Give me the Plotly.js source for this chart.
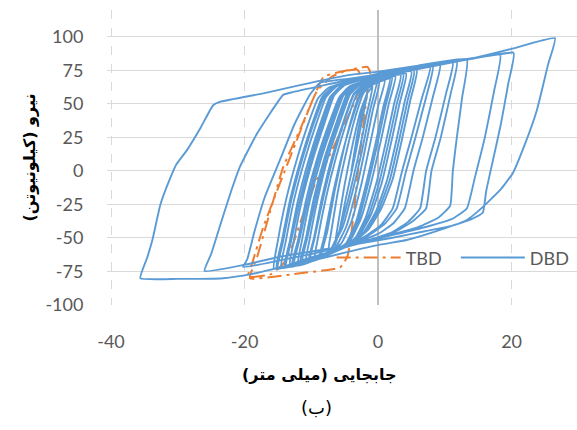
<!DOCTYPE html>
<html>
<head>
<meta charset="utf-8">
<script src="https://cdn.plot.ly/plotly-3.0.1.min.js"></script>
<style>
html,body{margin:0;padding:0;background:#fff;}
#chart{width:577px;height:430px;}
</style>
</head>
<body>
<div id="chart"></div>
<script>
// ---- Axis ticks ----
var xTicks = [-40, -20, 0, 20];
var yTicks = [-100, -75, -50, -25, 0, 25, 50, 75, 100];

// ---- DBD cycles (displacement mm, force kN) ----
var dbd1x = [-4, -3, -2, -1.5, -2.3, -3.5, -4.8, -5.8, -6.5];
var dbd1y = [0, 30, 52, 60, 40, 10, -20, -45, -56];
var dbd2x = [-6, -5, -3.8, -2.6, -1.6, -0.8, -1.8, -3, -4.4, -5.8, -7, -7.5];
var dbd2y = [-40, -10, 20, 45, 58, 63, 40, 10, -20, -45, -58, -61];
var dbd3x = [-7, -6, -4.7, -3.3, -2.2, -1, 0.2, -0.8, -2, -3.3, -4.8, -6.5, -8.5];
var dbd3y = [-45, -15, 15, 42, 58, 64, 66, 45, 15, -15, -42, -58, -64];
var dbd3bx = [-7.6, -6.5, -5.2, -3.8, -2.7, -1.4, -0.2, -1.2, -2.4, -3.8, -5.3, -7, -8.8];
var dbd3by = [-45, -15, 15, 42, 58, 64.5, 66.5, 45, 15, -15, -42, -58, -65];
var dbd4x = [-8, -6.8, -5.4, -3.8, -2.6, -1.3, 1, 0, -1.2, -2.5, -4, -5.5, -7.5, -9.5];
var dbd4y = [-48, -18, 12, 40, 57, 64, 67.5, 48, 20, -10, -38, -54, -61, -66];
var dbd5x = [-9, -7.8, -6.3, -4.6, -3.2, -1.8, 0.5, 1.8, 0.8, -0.4, -1.8, -3.3, -4.8, -7, -10.2];
var dbd5y = [-50, -20, 10, 38, 57, 64, 67, 69, 48, 20, -10, -38, -54, -61, -67.5];
var dbd5bx = [-9.5, -8.2, -6.7, -5, -3.6, -2.1, 0.3, 2.1, 1.1, -0.1, -1.5, -3, -4.5, -6.8, -10.4];
var dbd5by = [-50, -20, 10, 38, 57, 64, 67.5, 69.5, 48, 20, -10, -38, -54, -61, -68];
var dbd6x = [-9.6, -8.4, -6.9, -5.1, -3.7, -2.3, 0, 2.6, 1.6, 0.4, -1, -2.6, -4.2, -6.5, -10.8];
var dbd6y = [-50, -20, 10, 38, 57, 64, 68, 70.5, 50, 22, -8, -36, -52, -60, -68.5];
var dbd7x = [-10.2, -9, -7.5, -5.6, -4.2, -2.8, 0, 3.4, 2.4, 1.2, -0.2, -1.8, -3.4, -6, -11.4];
var dbd7y = [-50, -20, 10, 38, 57, 64, 68.5, 71.5, 50, 22, -8, -34, -50, -59, -69.5];
var dbd7bx = [-10.6, -9.3, -7.8, -5.9, -4.5, -3, 0, 3.8, 2.8, 1.6, 0.2, -1.4, -3.1, -5.8, -11.7];
var dbd7by = [-50, -20, 10, 38, 57, 64, 68.8, 72, 50, 22, -8, -33, -49, -58.5, -70];
var dbd8x = [-10.8, -9.6, -8, -6.1, -4.7, -3.3, 0, 4.2, 3.2, 2, 0.6, -1, -2.8, -5.5, -12];
var dbd8y = [-50, -20, 10, 38, 57, 64, 69, 72.5, 50, 22, -8, -32, -48, -58, -70.5];
var dbd9x = [-11.4, -10.2, -8.6, -6.7, -5.2, -3.8, 0, 5, 4, 2.8, 1.4, -0.3, -2.2, -5, -12.6];
var dbd9y = [-52, -22, 8, 36, 56, 63.5, 69.5, 74, 52, 24, -6, -30, -46, -57, -71];
var dbd9bx = [-11.8, -10.5, -8.9, -7, -5.5, -4, 0, 5.4, 4.4, 3.2, 1.8, 0.1, -1.8, -4.8, -12.9];
var dbd9by = [-52, -22, 8, 36, 55.5, 63.2, 69.8, 74.8, 52, 24, -6, -29, -45, -56.5, -71.2];
var dbd10x = [-12, -10.8, -9.2, -7.3, -5.8, -4.3, 0, 5.8, 4.8, 3.6, 2.2, 0.5, -1.5, -4.5, -13.2];
var dbd10y = [-52, -22, 8, 36, 55, 63, 70, 75.5, 52, 24, -6, -28, -44, -56, -71.5];
var dbd11x = [-12.6, -11.4, -9.8, -8, -6.6, -5, 0, 4, 7.8, 6.6, 5, 3.6, 2.2, 0.5, -2, -6, -10, -13.8];
var dbd11y = [-52, -22, 8, 36, 56, 64, 71, 74.5, 77.5, 55, 25, 0, -28, -40, -49, -58, -66, -72];
var dbd11bx = [-13, -11.7, -10.1, -8.3, -6.9, -5.3, 0, 4.5, 8.2, 7.2, 5.6, 4.2, 2.8, 1, -1.5, -5.5, -10, -14];
var dbd11by = [-52, -22, 8, 36, 55.5, 63.5, 71.2, 75, 78, 55, 25, 0, -28, -39.5, -48.5, -57.5, -66, -72.2];
var dbd12x = [-13.2, -12, -10.4, -8.6, -7.2, -5.6, 0, 5, 9.3, 8.2, 6.7, 5.3, 4, 2.3, 0, -4, -9, -14.5];
var dbd12y = [-52, -22, 8, 36, 55, 63, 71.5, 76, 79.5, 55, 25, 0, -28, -39, -47, -55, -64, -72.5];
var dbd13x = [-13.8, -12.6, -11, -9.2, -7.8, -6.2, 0, 6, 11.2, 10.2, 8.6, 7.2, 6.3, 4.5, 2, -3, -9, -15];
var dbd13y = [-52, -22, 8, 36, 55, 63, 72, 78, 81, 58, 25, 0, -28, -38, -46, -54, -63, -73];
var dbd13bx = [-14.2, -13, -11.4, -9.6, -8.1, -6.5, 0, 6, 11.8, 10.9, 9.4, 8, 7.2, 5.2, 2.5, -2.5, -8.5, -15.2];
var dbd13by = [-52, -22, 8, 36, 55, 62.8, 72.2, 78.2, 81.5, 58, 25, 0, -28, -37.5, -45.5, -53.5, -62.5, -73];
var dbd14x = [-14.4, -13.2, -11.6, -9.8, -8.4, -6.8, 0, 6, 13.3, 12.6, 11.8, 11.2, 10.8, 9, 6, 1, -5, -11, -15.6];
var dbd14y = [-52, -22, 8, 36, 55, 62.5, 72.5, 78.5, 83, 55, 25, 0, -26, -35, -42, -49, -57, -66, -73];
var dbd15x = [-15, -13.8, -12.2, -10.4, -9, -7.4, 0, 8, 13.3, 18.3, 17.4, 16, 14.5, 13.3, 11, 7, 2, -4, -10, -15, -20.2];
var dbd15y = [-52, -22, 8, 36, 54, 62, 72.5, 79.5, 83, 86.5, 60, 25, -5, -28, -36, -42, -48, -55, -62, -67, -71.6];
var dbd16x = [-19.6, -18.5, -17, -14.7, -12.5, -10.2, -8.7, -4, 0, 6, 13.3, 20.3, 19.5, 18.4, 17.3, 16.2, 15.7, 14, 11, 7, 2, -5, -14.7, -20, -26];
var dbd16y = [-66, -45, -20, 8, 35, 57, 65.7, 69, 72, 77.5, 83, 88, 65, 35, 10, -15, -31, -36, -41, -45, -50, -56, -64, -70, -74.6];
var dbd17x = [-25, -23.4, -22, -20.7, -18.1, -14.2, -13, -8, -4.2, 0, 6, 13.3, 20, 26.5, 25.5, 23.8, 22, 20.2, 18.5, 16.8, 15, 13.3, 9.3, 4.3, 0.3, -5, -10, -14.7, -19, -23.2, -30, -35.6];
var dbd17y = [-62, -36.6, -15, 3, 28, 56.7, 58.5, 64, 68, 71, 76, 83, 91, 99, 80, 45.5, 20, -1.5, -13, -21.6, -30, -36.6, -44, -51.5, -55, -61, -67, -72, -77, -80, -80.5, -80];
var dbd18x = [-34.6, -33.8, -32.6, -31.1, -30.2, -28.6, -26.6, -24.7, -23.7, -17, -11.7, -4.2, 0, 6, 13.3, 20.3];
var dbd18y = [-65, -51.5, -25, -5, 5, 15.7, 32, 49, 51.5, 58, 64, 71.6, 74, 78.5, 83.5, 88.5];

// ---- TBD path ----
var tbd1x = [-8.2, -6.4, -1.6, -1.2, -1.6, -2.3, -3, -3.6, -4.2, -4.6, -5.7, -12, -19.2];
var tbd1y = [70, 73, 77.6, 74, 60, 30, 0, -30, -54, -64, -72, -76.5, -80];
var tbd2x = [-18.1, -16.2, -14.2, -11.7, -9.1, -7, -5.2, -3.1, -2.4, -3.8, -5.7, -7.6, -9.3, -11.2, -12.7, -14, -16, -19.5];
var tbd2y = [-64, -31, 3, 30.6, 60, 70, 74, 75.5, 68, 48, 28, 8, -8, -32, -54, -68, -77, -79];
var tbd3x = [-18.8, -17.2, -14.6, -12.4, -10.2, -8.2];
var tbd3y = [-68, -42, -8, 20, 48, 70];

function cat(list){ var o=[]; list.forEach(function(a){ o = o.concat(a); }); return o; }

var dbdX = cat([dbd1x,dbd2x,dbd3x,dbd3bx,dbd4x,dbd5x,dbd5bx,dbd6x,dbd7x,dbd7bx,dbd8x,dbd9x,dbd9bx,dbd10x,dbd11x,dbd11bx,dbd12x,dbd13x,dbd13bx,dbd14x,dbd15x,dbd16x,dbd17x,dbd18x]);
var dbdY = cat([dbd1y,dbd2y,dbd3y,dbd3by,dbd4y,dbd5y,dbd5by,dbd6y,dbd7y,dbd7by,dbd8y,dbd9y,dbd9by,dbd10y,dbd11y,dbd11by,dbd12y,dbd13y,dbd13by,dbd14y,dbd15y,dbd16y,dbd17y,dbd18y]);
var tbdX = cat([tbd1x,tbd2x,tbd3x]);
var tbdY = cat([tbd1y,tbd2y,tbd3y]);

var tickFont = {family: 'Lato, "Open Sans", sans-serif', size: 18, color: '#595959'};

var traces = [
  {x: tbdX, y: tbdY, name: 'TBD\u00a0\u00a0', type: 'scatter', mode: 'lines',
   line: {color: '#ED7D31', width: 2, dash: '14px,5px,3px,5px', shape: 'spline', smoothing: 0.4}},
  {x: dbdX, y: dbdY, name: 'DBD', type: 'scatter', mode: 'lines',
   line: {color: '#5B9BD5', width: 1.9, shape: 'spline', smoothing: 0.4}}
];

var layout = {
  width: 577, height: 430,
  margin: {l: 107, r: 0, t: 10, b: 125},
  paper_bgcolor: '#ffffff', plot_bgcolor: '#ffffff',
  showlegend: true,
  legend: {orientation: 'h', x: 0.478, y: 0.16, xanchor: 'left', yanchor: 'middle',
           font: tickFont, bgcolor: 'rgba(0,0,0,0)', itemwidth: 64, tracegroupgap: 0},
  xaxis: {range: [-40.6, 29.8], tickvals: xTicks, ticktext: xTicks.map(String),
          showgrid: true, gridcolor: '#D9D9D9', griddash: 'dash', gridwidth: 1,
          zeroline: true, zerolinecolor: '#BFBFBF', zerolinewidth: 1.5,
          showline: false, ticks: 'outside', ticklen: 20, tickcolor: 'rgba(0,0,0,0)',
          tickfont: tickFont, fixedrange: true},
  yaxis: {range: [-100, 120], tickvals: yTicks, ticktext: yTicks.map(String),
          showgrid: true, gridcolor: '#D9D9D9', gridwidth: 1,
          zeroline: false, showline: false,
          ticks: 'outside', ticklen: 19, tickcolor: 'rgba(0,0,0,0)',
          tickfont: tickFont, fixedrange: true,
          title: {text: 'نیرو (کیلونیوتن)', font: {family: '"DejaVu Sans", sans-serif', size: 16, color: '#000', weight: 'bold'}, standoff: 5}},
  annotations: [
    {text: '<b>جابجایی (میلی متر)</b>', xref: 'paper', yref: 'paper', x: 0.452, y: -0.237,
     xanchor: 'center', yanchor: 'middle', showarrow: false,
     font: {family: '"DejaVu Sans", sans-serif', size: 16, color: '#000'}},
    {text: '(ب)', xref: 'paper', yref: 'paper', x: 0.446, y: -0.349,
     xanchor: 'center', yanchor: 'middle', showarrow: false,
     font: {family: '"DejaVu Sans", sans-serif', size: 18, color: '#000'}}
  ]
};

Plotly.newPlot('chart', traces, layout, {displayModeBar: false, staticPlot: true});
</script>
</body>
</html>
